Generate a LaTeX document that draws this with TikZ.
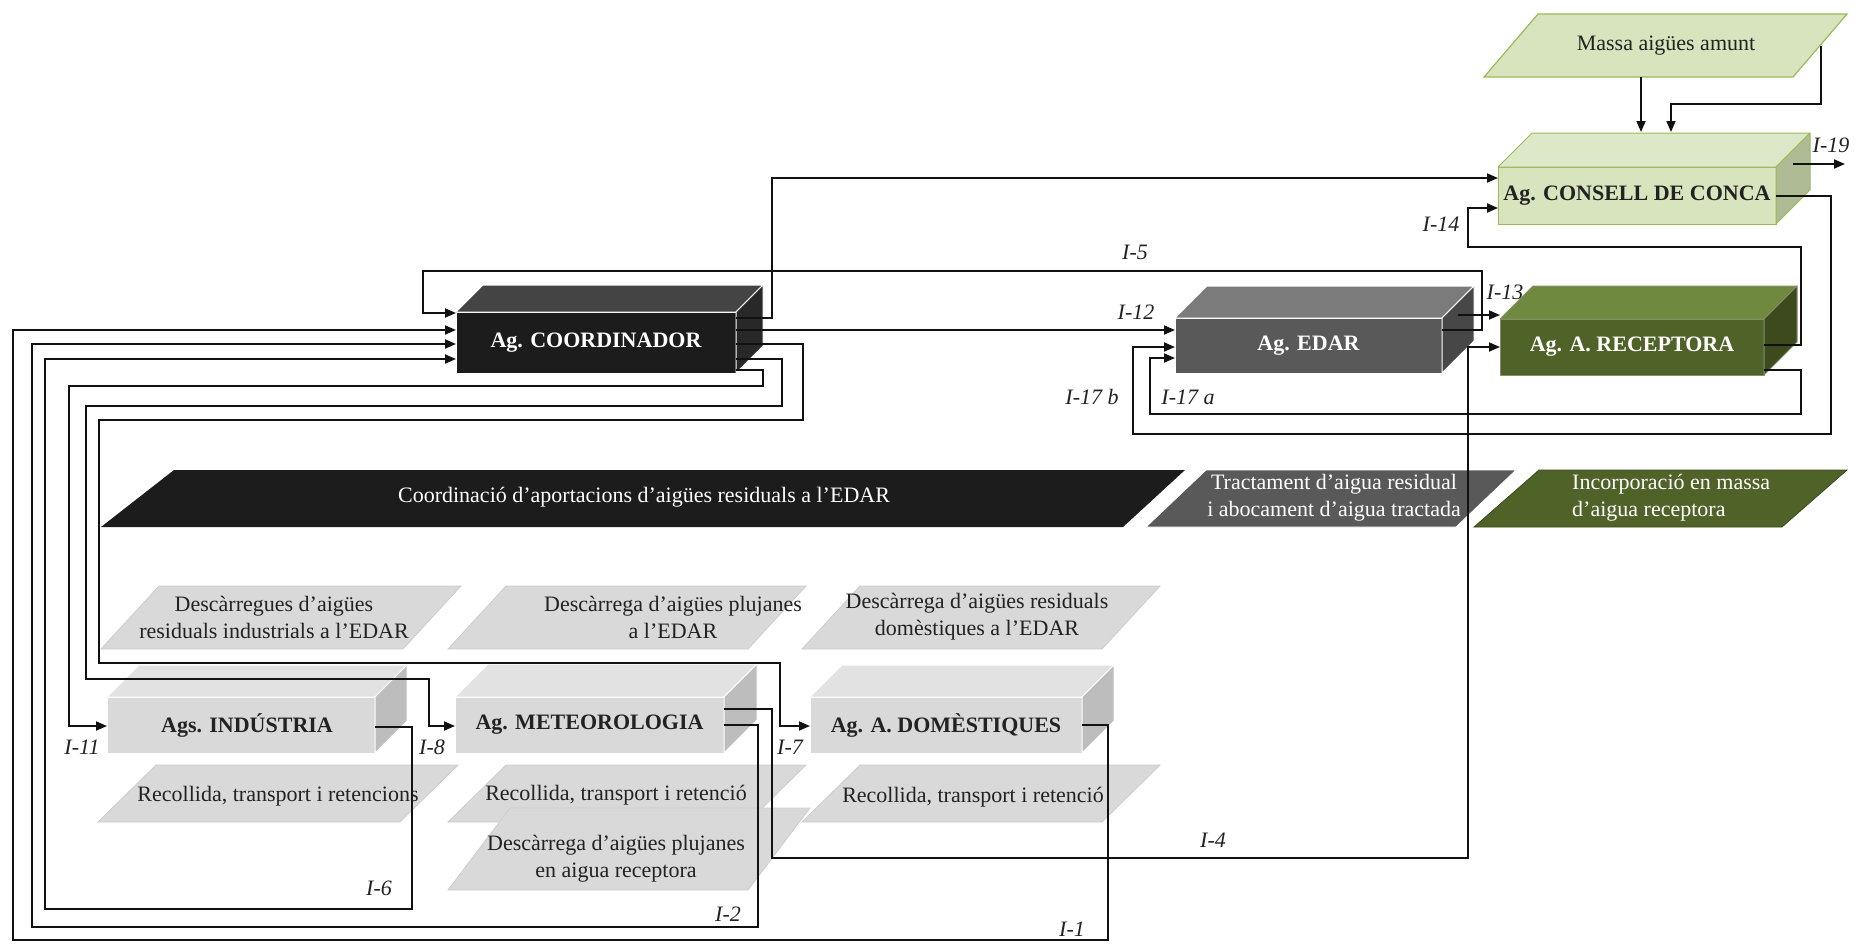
\documentclass[tikz,border=0pt]{standalone}
\usepackage{fontspec}
\setmainfont{Liberation Serif}
\usetikzlibrary{arrows.meta,calc}

\definecolor{inkblack}{HTML}{1C1C1C}
\definecolor{coordtop}{HTML}{444444}
\definecolor{coordside}{HTML}{282828}
\definecolor{edarfront}{HTML}{595959}
\definecolor{edartop}{HTML}{7B7B7B}
\definecolor{edarside}{HTML}{474747}
\definecolor{recfront}{HTML}{4F6228}
\definecolor{rectop}{HTML}{6F8A3E}
\definecolor{recside}{HTML}{3C4A1E}
\definecolor{consfront}{HTML}{D7E4BD}
\definecolor{constop}{HTML}{DDE8C8}
\definecolor{consside}{HTML}{AEBB95}
\definecolor{consedge}{HTML}{9BBB59}
\definecolor{greyfront}{HTML}{D9D9D9}
\definecolor{greytop}{HTML}{E2E2E2}
\definecolor{greyside}{HTML}{BDBDBD}
\definecolor{greyedge}{HTML}{CDCDCD}
\definecolor{lineink}{HTML}{111111}
\definecolor{textdark}{HTML}{222222}

% top and side faces of a box whose front face is node #1
% #2 depth, #3 top colour, #4 side colour, #5 edge colour
\newcommand{\cubefaces}[5]{%
  \filldraw[fill=#3,draw=#5,line width=1pt,line join=round]
    (#1.north west) -- ++(#2,-#2) -- ($(#1.north east)+(#2,-#2)$) -- (#1.north east) -- cycle;
  \filldraw[fill=#4,draw=#5,line width=1pt,line join=round]
    (#1.north east) -- ++(#2,-#2) -- ($(#1.south east)+(#2,-#2)$) -- (#1.south east) -- cycle;
}
% slanted band: #1 style, #2 name, #3 bottom-left x, #4 top y, #5 bottom y, #6 width, #7 slant
\newcommand{\plg}[7]{%
  \path[#1] (#3,#5) -- (#3+#6,#5) -- (#3+#6+#7,#4) -- (#3+#7,#4) -- cycle;
  \coordinate (#2) at ({#3+(#6+#7)/2},{(#4+#5)/2});
}

\begin{document}
\begin{tikzpicture}[x=1pt,y=-1pt,
  every node/.style={font=\fontsize{22}{27}\selectfont, inner sep=0pt},
  front/.style={outer sep=0pt, inner sep=0pt, line width=1pt, font=\fontsize{22}{27}\selectfont\bfseries},
  conn/.style={draw=lineink, line width=1.8pt, line join=miter},
  arr/.style={conn, -{Triangle[length=11pt,width=9pt]}},
  lbl/.style={font=\fontsize{22}{27}\selectfont\itshape, text=textdark},
  grey/.style={fill=greyfront, draw=greyedge, line width=0.8pt},
  gtext/.style={text=textdark, align=center}
]
\fill[white] (0,0) rectangle (1868,951);
\useasboundingbox (0,0) rectangle (1868,951);

% ---- phase bands ----
\fill[inkblack] (101,527) -- (1123,527) -- (1185,470) -- (174,470) -- cycle;
\coordinate (bandA) at (645,498);
\plg{fill=edarfront, draw=white, line width=0.8pt}{bandB}{1146}{470}{527}{310}{60}
\plg{fill=recfront, draw=recside, line width=0.8pt}{bandC}{1474}{470}{527}{308}{65}
\node[text=white] (tA) at (644,497) {Coordinació d’aportacions d’aigües residuals a l’EDAR};
\node[text=white, align=center] (tB) at (1334,498) {Tractament d’aigua residual\\i abocament d’aigua tractada};
\node[text=white, align=left, anchor=west] (tC) at (1572,498) {Incorporació en massa\\d’aigua receptora};

% ---- discharge and collection steps ----
\plg{grey}{pDi}{101}{586}{649}{302}{58}
\plg{grey}{pDm}{448}{586}{649}{300}{58}
\plg{grey}{pDd}{802}{586}{649}{300}{58}
\plg{grey}{pRi}{98}{765}{822}{302}{58}
\plg{grey}{pRm}{448}{765}{822}{300}{58}
\plg{grey}{pRd}{802}{765}{822}{300}{58}
\plg{grey}{pPm}{448}{808}{890}{300}{62}
\node[gtext] (tDi) at (274,617) {Descàrregues d’aigües\\residuals industrials a l’EDAR};
\node[gtext] (tDm) at (673,617) {Descàrrega d’aigües plujanes\\a l’EDAR};
\node[gtext] (tDd) at (977,617) {Descàrrega d’aigües residuals\\domèstiques a l’EDAR};
\node[gtext] (tRi) at (278,796) {Recollida, transport i retencions};
\node[gtext] (tRm) at (616,795) {Recollida, transport i retenció};
\node[gtext] (tRd) at (973,797) {Recollida, transport i retenció};
\node[gtext] (tPm) at (616,859) {Descàrrega d’aigües plujanes\\en aigua receptora};

% ---- upstream water body ----
\plg{fill=consfront, draw=consedge, line width=1.2pt}{pMa}{1484}{14}{77}{309}{54}
\node[text=textdark] (tMa) at (1666,46) {Massa aigües amunt};

% ---- agents ----
\node[front, fill=inkblack, draw=white, text=white, minimum width=280pt, minimum height=61pt] (coord) at (596,342.5) {Ag. COORDINADOR};
\cubefaces{coord}{27}{coordtop}{coordside}{white}

\node[front, fill=edarfront, draw=white, text=white, minimum width=267pt, minimum height=55pt] (edar) at (1308.5,345.5) {Ag. EDAR};
\cubefaces{edar}{32}{edartop}{edarside}{white}

\node[front, fill=recfront, draw=recfront!70!white, text=white, minimum width=264pt, minimum height=56pt] (rec) at (1632,347) {Ag. A. RECEPTORA};
\cubefaces{rec}{33}{rectop}{recside}{recfront!70!white}

\node[front, fill=consfront, draw=consedge, text=textdark, minimum width=278pt, minimum height=57pt] (consell) at (1637,195.5) {Ag. CONSELL DE CONCA};
\cubefaces{consell}{34}{constop}{consside}{consedge}

\node[front, fill=greyfront, draw=white, text=textdark, minimum width=268pt, minimum height=56pt] (ind) at (241,725) {\hspace*{12pt}Ags. INDÚSTRIA};
\cubefaces{ind}{32}{greytop}{greyside}{white}

\node[front, fill=greyfront, draw=white, text=textdark, minimum width=269pt, minimum height=56pt] (met) at (589.5,725) {Ag. METEOROLOGIA};
\cubefaces{met}{33}{greytop}{greyside}{white}

\node[front, fill=greyfront, draw=white, text=textdark, minimum width=272pt, minimum height=56pt] (dom) at (946,725) {Ag. A. DOMÈSTIQUES};
\cubefaces{dom}{32}{greytop}{greyside}{white}

% ---- free ends ----
\coordinate (mA) at (1641,77);
\coordinate (mB) at (1821,46);
\coordinate (cTopA) at (1641,132);
\coordinate (cTopB) at (1671,132);
\coordinate (c19s) at (1793,164);
\coordinate (c19e) at (1845,164);
\coordinate (e13) at (1458,315);

% ---- connectors ----
\draw[arr] (mA) -- (cTopA);
\draw[arr] (mB) |- (1671,104) -- (cTopB);
\draw[arr] (c19s) -- (c19e);
\draw[arr] (coord.east |- 0,318) -| (772,178) -- (consell.west |- 0,178);
\draw[arr] (coord.east |- 0,330) -- (edar.west |- 0,330);
\draw[arr] (coord.east |- 0,370) -| (763,386) -| (69,726) -- (ind.west |- 0,726);
\draw[arr] (coord.east |- 0,359) -| (782,406) -| (86,679) -| (429,726) -- (met.west |- 0,726);
\draw[arr] (coord.east |- 0,344) -| (803,420) -| (99,663) -| (780,726) -- (dom.west |- 0,726);
\draw[arr] (edar.east |- 0,330) -| (1482,271) -| (423,313) -- (coord.west |- 0,313);
\draw[arr] (dom.east |- 0,725) -| (1108,940) -| (13,330) -- (coord.west |- 0,330);
\draw[arr] (met.east |- 0,725) -| (758,927) -| (32,344) -- (coord.west |- 0,344);
\draw[arr] (ind.east |- 0,727) -| (412,909) -| (45,359) -- (coord.west |- 0,359);
\draw[arr] (met.east |- 0,709) -| (772,858) -| (1468,347) -- (rec.west |- 0,347);
\draw[arr] (e13) -- (rec.west |- e13);
\draw[arr] (rec.east |- 0,345) -| (1801,247) -| (1468,208) -- (consell.west |- 0,208);
\draw[arr] (rec.east |- 0,370) -| (1801,414) -| (1150,358) -- (edar.west |- 0,358);
\draw[arr] (consell.east |- 0,196) -| (1831,434) -| (1133,347) -- (edar.west |- 0,347);

% ---- flow labels ----
\node[lbl] (l19) at (1831,145) {I-19};
\node[lbl] (l14) at (1441,224) {I-14};
\node[lbl] (l5) at (1135,252) {I-5};
\node[lbl] (l12) at (1136,312) {I-12};
\node[lbl] (l13) at (1505,292) {I-13};
\node[lbl] (l17b) at (1092,397) {I-17 b};
\node[lbl] (l17a) at (1188,397) {I-17 a};
\node[lbl] (l11) at (82,747) {I-11};
\node[lbl] (l8) at (432,747) {I-8};
\node[lbl] (l7) at (790,747) {I-7};
\node[lbl] (l6) at (379,888) {I-6};
\node[lbl] (l2) at (728,914) {I-2};
\node[lbl] (l4) at (1213,840) {I-4};
\node[lbl] (l1) at (1072,929) {I-1};
\end{tikzpicture}
\end{document}
